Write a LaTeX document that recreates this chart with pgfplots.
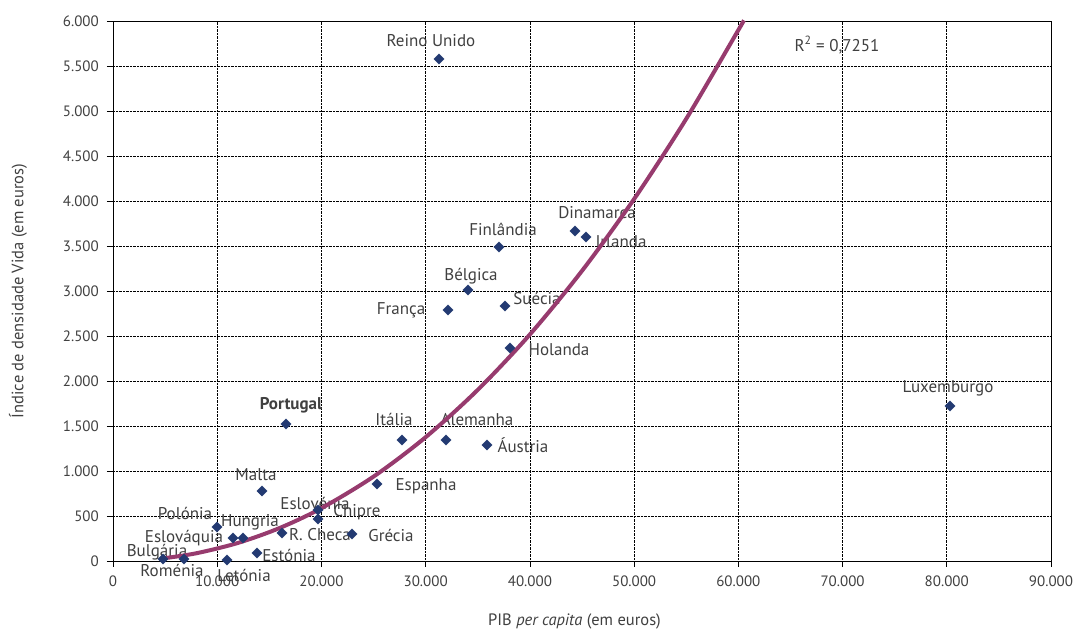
\documentclass[border=0pt]{standalone}
\usepackage{pgfplots}
\pgfplotsset{compat=1.18}
\usepackage{fontspec}
\setmainfont{PT Sans}
\definecolor{txt}{HTML}{404040}
\definecolor{mk}{HTML}{233A72}
\definecolor{trend}{HTML}{973B6E}
\begin{document}
\fontsize{15}{18}\selectfont
\begin{tikzpicture}
\useasboundingbox (-113pt,-70pt) rectangle (962pt,561pt);
\begin{axis}[
  at={(0,0)}, anchor=south west,
  width=938pt, height=540pt, scale only axis,
  xmin=0, xmax=90000, ymin=0, ymax=6000,
  xtick={0,10000,...,90000}, ytick={0,500,...,6000},
  scaled ticks=false,
  /pgf/number format/.cd, 1000 sep={.}, assume math mode=true, /pgfplots/.cd,
  tick pos=left, tick align=outside, major tick length=6pt,
  tick style={black, line width=0.6pt},
  grid=major, major grid style={densely dotted, black, line width=0.6pt},
  axis line style={black, line width=0.8pt},
  ticklabel style={text=txt, font=\fontsize{15}{18}\selectfont},
  xticklabel style={yshift=-4pt},
  yticklabel style={xshift=-3pt},
  xlabel={PIB \textit{per capita} (em euros)},
  ylabel={Índice de densidade Vida (em euros)},
  label style={text=txt, font=\fontsize{16.5}{19}\selectfont},
  xlabel style={at={(axis description cs:0.492,0)}, anchor=center, yshift=-60pt},
  ylabel style={at={(axis description cs:0,0.5)}, anchor=center, yshift=95pt},
  clip=false,
]
\begin{scope}[every node/.style={text=txt, font=\fontsize{17}{20}\selectfont, inner sep=0pt, anchor=center}]
\node at (axis cs:30512,5778) {Reino Unido};
\node at (axis cs:69468,5733) {R\textsuperscript{2} = 0,7251};
\node at (axis cs:46440,3867) {Dinamarca};
\node at (axis cs:48743,3544) {Irlanda};
\node at (axis cs:37420,3689) {Finlândia};
\node at (axis cs:34350,3167) {Bélgica};
\node at (axis cs:40683,2922) {Suécia};
\node at (axis cs:27634,2789) {França};
\node at (axis cs:42794,2344) {Holanda};
\node at (axis cs:80118,1922) {Luxemburgo};
\node[font=\fontsize{17}{20}\selectfont\bfseries] at (axis cs:17079,1733) {Portugal};
\node at (axis cs:26962,1567) {Itália};
\node at (axis cs:34926,1567) {Alemanha};
\node at (axis cs:39340,1289) {Áustria};
\node at (axis cs:30032,833) {Espanha};
\node at (axis cs:13721,956) {Malta};
\node at (axis cs:19382,644) {Eslovénia};
\node at (axis cs:23412,544) {Chipre};
\node at (axis cs:6908,533) {Polónia};
\node at (axis cs:13145,433) {Hungria};
\node at (axis cs:6812,256) {Eslováquia};
\node at (axis cs:19862,289) {R. Checa};
\node at (axis cs:26674,289) {Grécia};
\node at (axis cs:4222,100) {Bulgária};
\node at (axis cs:5661,-100) {Roménia};
\node at (axis cs:16887,56) {Estónia};
\node at (axis cs:12569,-156) {Letónia};
\end{scope}
\addplot[only marks, mark=square*, mark size=3.6pt, mark options={rotate=45, fill=mk, draw=mk}] coordinates {
(31280,5578) (44330,3667) (45380,3600) (37040,3489) (34060,3011)
(37610,2833) (32140,2789) (38090,2367) (80310,1722) (16600,1522)
(27730,1344) (31950,1344) (35890,1289) (25330,856) (14300,778)
(19670,567) (19670,467) (22930,300) (16220,311) (9980,378)
(12470,256) (11510,256) (13820,89) (10940,11) (4800,22) (6810,22)
};
\addplot[trend, line width=4pt, smooth] coordinates {
(4800,29) (8000,86) (12000,201) (16000,367) (20000,587) (25000,938)
(30000,1376) (35000,1902) (40000,2517) (45000,3224) (50000,4022)
(55000,4913) (60000,5899) (60500,6000)
};
\end{axis}
\end{tikzpicture}
\end{document}
